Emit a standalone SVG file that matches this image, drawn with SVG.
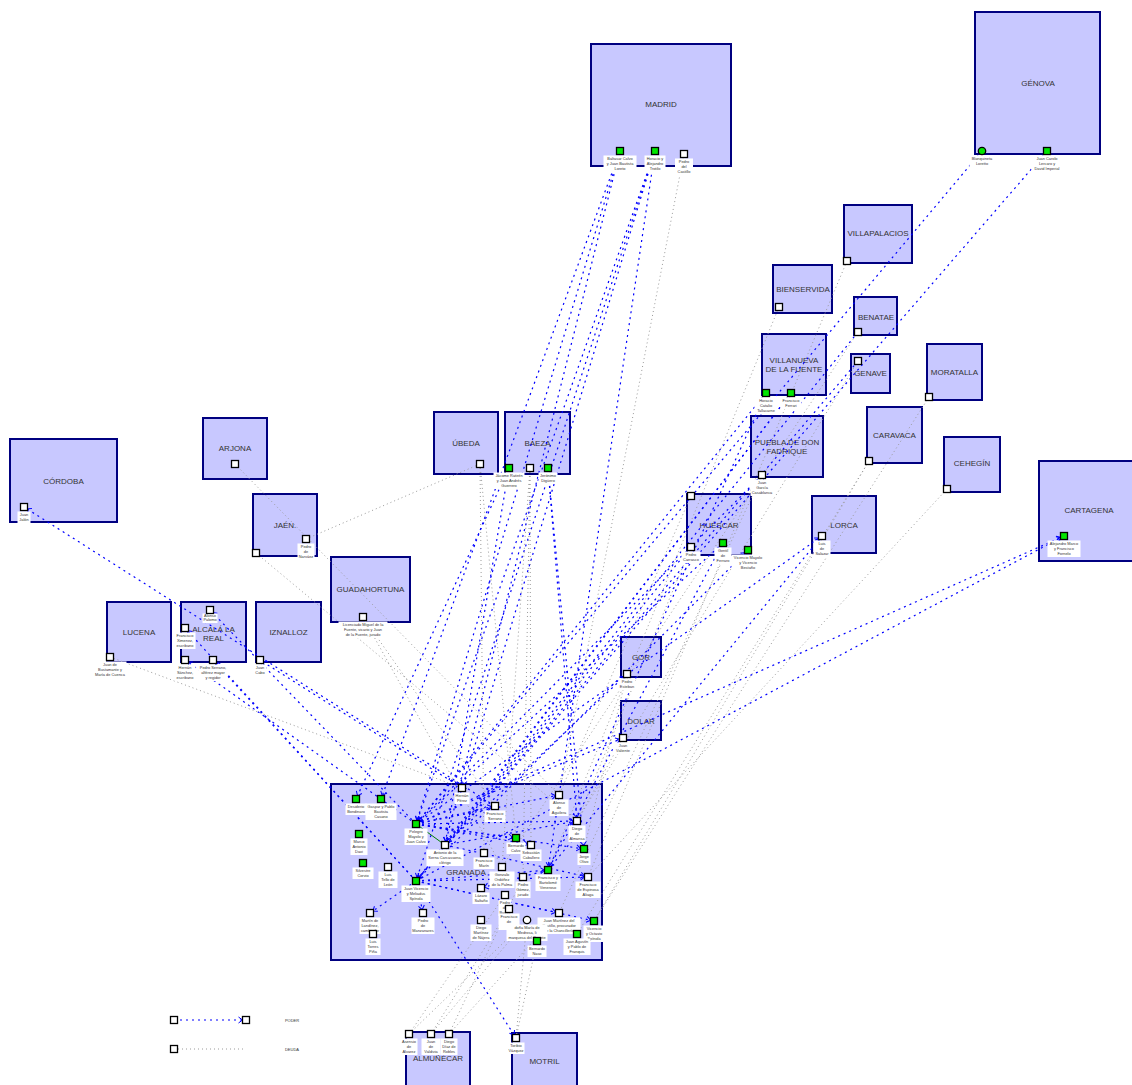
<svg xmlns="http://www.w3.org/2000/svg" width="1132" height="1085" viewBox="0 0 1132 1085">
<style>
.box{fill:#c8c8ff;stroke:#000080;stroke-width:2}
.bl{font-family:"Liberation Sans",Arial,sans-serif;font-size:8px;fill:#333;text-anchor:middle}
.pw{fill:#fff;stroke:#000;stroke-width:1.3}
.pg{fill:#00e600;stroke:#000;stroke-width:1.3}
.lb{fill:#fff}
.lt{font-family:"Liberation Sans",Arial,sans-serif;font-size:3.9px;fill:#333;text-anchor:middle}
.poder{stroke:#0000ff;stroke-width:1.2;stroke-dasharray:2 4;fill:none;marker-end:url(#ah)}
.deuda{stroke:#9a9a9a;stroke-width:1;stroke-dasharray:1 3;fill:none}
.lg{font-family:"Liberation Sans",Arial,sans-serif;font-size:4px;fill:#333;text-anchor:middle}
</style>
<defs>
<marker id="ah" markerWidth="12" markerHeight="8" refX="11.5" refY="4" orient="auto" markerUnits="userSpaceOnUse">
<path d="M4,1 L8,4 L4,7" fill="none" stroke="#0000ff" stroke-width="1"/>
</marker>
</defs>
<rect width="1132" height="1085" fill="#fff"/>

<!-- places -->
<g id="n-madrid"><rect class="box" x="591" y="44" width="140" height="122"/><text class="bl" x="661" y="107">MADRID</text></g>
<g id="n-genova"><rect class="box" x="975" y="12" width="125" height="142"/><text class="bl" x="1038" y="86">GÉNOVA</text></g>
<g id="n-villapalacios"><rect class="box" x="844" y="205" width="68" height="58"/><text class="bl" x="878" y="236">VILLAPALACIOS</text></g>
<g id="n-bienservida"><rect class="box" x="773" y="265" width="59" height="48"/><text class="bl" x="803" y="292">BIENSERVIDA</text></g>
<g id="n-benatae"><rect class="box" x="854" y="297" width="43" height="38"/><text class="bl" x="876" y="319.5">BENATAE</text></g>
<g id="n-genave"><rect class="box" x="851" y="354" width="39" height="39"/><text class="bl" x="870.5" y="376">GENAVE</text></g>
<g id="n-moratalla"><rect class="box" x="927" y="344" width="55" height="56"/><text class="bl" x="954.5" y="375">MORATALLA</text></g>
<g id="n-villanueva"><rect class="box" x="762" y="334" width="64" height="61"/><text class="bl" x="794" y="363">VILLANUEVA</text><text class="bl" x="794" y="372">DE LA FUENTE</text></g>
<g id="n-puebla"><rect class="box" x="751" y="416" width="72" height="61"/><text class="bl" x="787" y="445">PUEBLA DE DON</text><text class="bl" x="787" y="454">FADRIQUE</text></g>
<g id="n-caravaca"><rect class="box" x="867" y="407" width="55" height="56"/><text class="bl" x="894.5" y="438">CARAVACA</text></g>
<g id="n-cehegin"><rect class="box" x="944" y="437" width="56" height="55"/><text class="bl" x="972" y="466">CEHEGÍN</text></g>
<g id="n-cartagena"><rect class="box" x="1039" y="461" width="100" height="100"/><text class="bl" x="1089" y="513">CARTAGENA</text></g>
<g id="n-huescar"><rect class="box" x="687" y="494" width="64" height="61"/><text class="bl" x="719" y="528">HUÉSCAR</text></g>
<g id="n-lorca"><rect class="box" x="812" y="496" width="64" height="57"/><text class="bl" x="844" y="528">LORCA</text></g>
<g id="n-gor"><rect class="box" x="621" y="637" width="40" height="40"/><text class="bl" x="641" y="660">GOR</text></g>
<g id="n-dolar"><rect class="box" x="621" y="701" width="40" height="39"/><text class="bl" x="641" y="724">DOLAR</text></g>
<g id="n-cordoba"><rect class="box" x="10" y="439" width="107" height="83"/><text class="bl" x="63.5" y="484">CÓRDOBA</text></g>
<g id="n-arjona"><rect class="box" x="203" y="418" width="64" height="61"/><text class="bl" x="235" y="451">ARJONA</text></g>
<g id="n-jaen"><rect class="box" x="253" y="494" width="64" height="62"/><text class="bl" x="285" y="528">JAÉN.</text></g>
<g id="n-lucena"><rect class="box" x="107" y="602" width="64" height="60"/><text class="bl" x="139" y="635">LUCENA</text></g>
<g id="n-alcala"><rect class="box" x="181" y="602" width="65" height="60"/><text class="bl" x="213.5" y="631.5">ALCALÁ LA</text><text class="bl" x="213.5" y="640.5">REAL</text></g>
<g id="n-iznalloz"><rect class="box" x="256" y="602" width="65" height="60"/><text class="bl" x="288.5" y="635">IZNALLOZ</text></g>
<g id="n-ubeda"><rect class="box" x="434" y="412" width="64" height="62"/><text class="bl" x="466" y="446">ÚBEDA</text></g>
<g id="n-baeza"><rect class="box" x="505" y="412" width="65" height="62"/><text class="bl" x="537.5" y="446">BAEZA</text></g>
<g id="n-guadahortuna"><rect class="box" x="331" y="557" width="79" height="65"/><text class="bl" x="370.5" y="592">GUADAHORTUNA</text></g>
<g id="n-granada"><rect class="box" x="331" y="784" width="271" height="176"/><text class="bl" x="466" y="875">GRANADA</text></g>
<g id="n-almunecar"><rect class="box" x="406" y="1032" width="64" height="60"/><text class="bl" x="438" y="1061">ALMUÑÉCAR</text></g>
<g id="n-motril"><rect class="box" x="512" y="1033" width="65" height="60"/><text class="bl" x="544.5" y="1064">MOTRIL</text></g>

<!-- relations: poder (blue, arrow) and deuda (grey) -->
<g id="connectors">
<line class="deuda" x1="235" y1="464" x2="559" y2="795"/>
<line class="deuda" x1="256" y1="553" x2="577" y2="821"/>
<line class="deuda" x1="306" y1="539" x2="480" y2="464"/>
<line class="deuda" x1="110" y1="657" x2="462" y2="788"/>
<line class="deuda" x1="480" y1="464" x2="484" y2="853"/>
<line class="deuda" x1="480" y1="464" x2="516" y2="838"/>
<line class="deuda" x1="530" y1="468" x2="531" y2="845"/>
<line class="deuda" x1="530" y1="468" x2="502" y2="867"/>
<line class="deuda" x1="530" y1="468" x2="523" y2="877"/>
<line class="deuda" x1="363" y1="617" x2="495" y2="806"/>
<line class="deuda" x1="363" y1="617" x2="502" y2="867"/>
<line class="deuda" x1="847" y1="261" x2="588" y2="877"/>
<line class="deuda" x1="779" y1="307" x2="548" y2="870"/>
<line class="deuda" x1="929" y1="397" x2="594" y2="921"/>
<line class="deuda" x1="869" y1="461" x2="594" y2="921"/>
<line class="deuda" x1="869" y1="461" x2="577" y2="934"/>
<line class="deuda" x1="947" y1="489" x2="588" y2="877"/>
<line class="deuda" x1="691" y1="496" x2="559" y2="795"/>
<line class="deuda" x1="691" y1="547" x2="577" y2="821"/>
<line class="deuda" x1="762" y1="475" x2="559" y2="913"/>
<line class="deuda" x1="858" y1="332" x2="502" y2="867"/>
<line class="deuda" x1="858" y1="361" x2="577" y2="821"/>
<line class="deuda" x1="627" y1="674" x2="584" y2="849"/>
<line class="deuda" x1="623" y1="738" x2="577" y2="821"/>
<line class="deuda" x1="409" y1="1034" x2="527" y2="920"/>
<line class="deuda" x1="409" y1="1034" x2="505" y2="895"/>
<line class="deuda" x1="431" y1="1034" x2="509" y2="909"/>
<line class="deuda" x1="431" y1="1034" x2="527" y2="920"/>
<line class="deuda" x1="449" y1="1034" x2="523" y2="877"/>
<line class="deuda" x1="449" y1="1034" x2="559" y2="913"/>
<line class="deuda" x1="516" y1="1038" x2="527" y2="920"/>
<line class="deuda" x1="516" y1="1038" x2="537" y2="941"/>
<line class="deuda" x1="684" y1="154" x2="559" y2="795"/>

<line class="poder" x1="620" y1="151" x2="416" y2="824"/>
<line class="poder" x1="620" y1="151" x2="445" y2="845"/>
<line class="poder" x1="620" y1="151" x2="381" y2="799"/>
<line class="poder" x1="655" y1="151" x2="416" y2="824"/>
<line class="poder" x1="655" y1="151" x2="416" y2="881"/>
<line class="poder" x1="655" y1="151" x2="462" y2="788"/>
<line class="poder" x1="655" y1="151" x2="548" y2="870"/>
<line class="poder" x1="982" y1="151" x2="416" y2="824"/>
<line class="poder" x1="1047" y1="151" x2="416" y2="881"/>
<line class="poder" x1="766" y1="393" x2="416" y2="824"/>
<line class="poder" x1="791" y1="393" x2="416" y2="881"/>
<line class="poder" x1="791" y1="393" x2="445" y2="845"/>
<line class="poder" x1="723" y1="543" x2="416" y2="824"/>
<line class="poder" x1="416" y1="881" x2="748" y2="550"/>
<line class="poder" x1="509" y1="468" x2="356" y2="799"/>
<line class="poder" x1="509" y1="468" x2="445" y2="845"/>
<line class="poder" x1="548" y1="468" x2="577" y2="821"/>
<line class="poder" x1="548" y1="468" x2="584" y2="849"/>
<line class="poder" x1="495" y1="806" x2="24" y2="507"/>
<line class="poder" x1="416" y1="881" x2="516" y2="1038"/>
<line class="poder" x1="416" y1="824" x2="185" y2="660"/>
<line class="poder" x1="416" y1="881" x2="185" y2="628"/>
<line class="poder" x1="416" y1="881" x2="213" y2="660"/>
<line class="poder" x1="416" y1="824" x2="210" y2="610"/>
<line class="poder" x1="462" y1="788" x2="260" y2="660"/>
<line class="poder" x1="416" y1="824" x2="1064" y2="536"/>
<line class="poder" x1="416" y1="881" x2="1064" y2="536"/>
<line class="poder" x1="416" y1="824" x2="822" y2="536"/>
<line class="poder" x1="548" y1="870" x2="822" y2="536"/>
<line class="poder" x1="416" y1="824" x2="623" y2="738"/>
<line class="poder" x1="445" y1="845" x2="627" y2="674"/>
<line class="poder" x1="858" y1="332" x2="445" y2="845"/>
<line class="poder" x1="858" y1="361" x2="416" y2="881"/>
<line class="poder" x1="762" y1="475" x2="416" y2="824"/>
<line class="poder" x1="691" y1="547" x2="416" y2="881"/>
<line class="poder" x1="766" y1="393" x2="548" y2="870"/>
<line class="poder" x1="723" y1="543" x2="548" y2="870"/>

<line class="poder" x1="416" y1="824" x2="559" y2="795"/>
<line class="poder" x1="416" y1="824" x2="577" y2="821"/>
<line class="poder" x1="416" y1="824" x2="584" y2="849"/>
<line class="poder" x1="416" y1="881" x2="588" y2="877"/>
<line class="poder" x1="416" y1="881" x2="559" y2="913"/>
<line class="poder" x1="416" y1="881" x2="594" y2="921"/>
<line class="poder" x1="416" y1="881" x2="423" y2="913"/>
<line class="poder" x1="416" y1="881" x2="370" y2="913"/>
<line class="poder" x1="548" y1="870" x2="481" y2="888"/>
<line class="poder" x1="416" y1="824" x2="516" y2="838"/>
<line class="poder" x1="416" y1="824" x2="495" y2="806"/>
<line class="poder" x1="445" y1="845" x2="577" y2="821"/>
<line class="poder" x1="416" y1="881" x2="548" y2="870"/>
<line class="poder" x1="416" y1="824" x2="531" y2="845"/>
<line class="poder" x1="445" y1="845" x2="588" y2="877"/>
<line x1="416" y1="824" x2="445" y2="845" stroke="#008000" stroke-width="1"/>
</g>

<!-- people -->
<g id="p-m1"><rect class="lb" x="603.5" y="155.5" width="33" height="16.5"/><text class="lt" x="620" y="159.5">Baltasar Calvo<tspan x="620" dy="5">y Juan Bautista</tspan><tspan x="620" dy="5">Loreto</tspan></text><rect class="pg" x="616.5" y="147.5" width="7" height="7"/></g>
<g id="p-m2"><rect class="lb" x="644.5" y="155.5" width="21" height="16.5"/><text class="lt" x="655" y="159.5">Horacio y<tspan x="655" dy="5">Alejandro</tspan><tspan x="655" dy="5">Trotilo</tspan></text><rect class="pg" x="651.5" y="147.5" width="7" height="7"/></g>
<g id="p-m3"><rect class="lb" x="675" y="158.5" width="18" height="16.5"/><text class="lt" x="684" y="162.5">Pedro<tspan x="684" dy="5">del</tspan><tspan x="684" dy="5">Castillo</tspan></text><rect class="pw" x="680.5" y="150.5" width="7" height="7"/></g>
<g id="p-g-1"><rect class="lb" x="969.5" y="155.5" width="25" height="11.5"/><text class="lt" x="982" y="159.5">Blanquineta<tspan x="982" dy="5">Loretto</tspan></text><circle class="pg" cx="982" cy="151" r="3.7"/></g>
<g id="p-g-2"><rect class="lb" x="1031.5" y="155.5" width="31" height="16.5"/><text class="lt" x="1047" y="159.5">Juan Carolo<tspan x="1047" dy="5">Lercaro y</tspan><tspan x="1047" dy="5">David Imperial</tspan></text><rect class="pg" x="1043.5" y="147.5" width="7" height="7"/></g>
<g id="p-vp"><rect class="pw" x="843.5" y="257.5" width="7" height="7"/></g>
<g id="p-bs"><rect class="pw" x="775.5" y="303.5" width="7" height="7"/></g>
<g id="p-bn"><rect class="pw" x="854.5" y="328.5" width="7" height="7"/></g>
<g id="p-gn"><rect class="pw" x="854.5" y="357.5" width="7" height="7"/></g>
<g id="p-mo"><rect class="pw" x="925.5" y="393.5" width="7" height="7"/></g>
<g id="p-vf1"><rect class="lb" x="754.5" y="397.5" width="23" height="16.5"/><text class="lt" x="766" y="401.5">Horacio<tspan x="766" dy="5">Catalio</tspan><tspan x="766" dy="5">Tallacarne</tspan></text><rect class="pg" x="762.5" y="389.5" width="7" height="7"/></g>
<g id="p-vf2"><rect class="lb" x="780.5" y="397.5" width="21" height="11.5"/><text class="lt" x="791" y="401.5">Francisco<tspan x="791" dy="5">Ferrari</tspan></text><rect class="pg" x="787.5" y="389.5" width="7" height="7"/></g>
<g id="p-pf"><rect class="lb" x="750.5" y="479.5" width="23" height="16.5"/><text class="lt" x="762" y="483.5">Juan<tspan x="762" dy="5">García</tspan><tspan x="762" dy="5">Casablanca</tspan></text><rect class="pw" x="758.5" y="471.5" width="7" height="7"/></g>
<g id="p-ca"><rect class="pw" x="865.5" y="457.5" width="7" height="7"/></g>
<g id="p-ce"><rect class="pw" x="943.5" y="485.5" width="7" height="7"/></g>
<g id="p-ct"><rect class="lb" x="1047.5" y="540.5" width="33" height="16.5"/><text class="lt" x="1064" y="544.5">Alejandro Marco<tspan x="1064" dy="5">y Francisco</tspan><tspan x="1064" dy="5">Fornelo</tspan></text><rect class="pg" x="1060.5" y="532.5" width="7" height="7"/></g>
<g id="p-h0"><rect class="pw" x="687.5" y="492.5" width="7" height="7"/></g>
<g id="p-h1"><rect class="lb" x="681.5" y="551.5" width="19" height="11.5"/><text class="lt" x="691" y="555.5">Pedro<tspan x="691" dy="5">Carrasco</tspan></text><rect class="pw" x="687.5" y="543.5" width="7" height="7"/></g>
<g id="p-h2"><rect class="lb" x="714.5" y="547.5" width="17" height="16.5"/><text class="lt" x="723" y="551.5">Gentil<tspan x="723" dy="5">de</tspan><tspan x="723" dy="5">Ferraro</tspan></text><rect class="pg" x="719.5" y="539.5" width="7" height="7"/></g>
<g id="p-h3"><rect class="lb" x="731.5" y="554.5" width="33" height="16.5"/><text class="lt" x="748" y="558.5">Vicencio Mayolo<tspan x="748" dy="5">y Vicencio</tspan><tspan x="748" dy="5">Bestaño</tspan></text><rect class="pg" x="744.5" y="546.5" width="7" height="7"/></g>
<g id="p-lo"><rect class="lb" x="813.5" y="540.5" width="17" height="16.5"/><text class="lt" x="822" y="544.5">Luis<tspan x="822" dy="5">de</tspan><tspan x="822" dy="5">Salazar</tspan></text><rect class="pw" x="818.5" y="532.5" width="7" height="7"/></g>
<g id="p-go"><rect class="lb" x="618.5" y="678.5" width="17" height="11.5"/><text class="lt" x="627" y="682.5">Pedro<tspan x="627" dy="5">Esteban</tspan></text><rect class="pw" x="623.5" y="670.5" width="7" height="7"/></g>
<g id="p-do"><rect class="lb" x="613.5" y="742.5" width="19" height="11.5"/><text class="lt" x="623" y="746.5">Juan<tspan x="623" dy="5">Valiente</tspan></text><rect class="pw" x="619.5" y="734.5" width="7" height="7"/></g>
<g id="p-co"><rect class="lb" x="17.5" y="511.5" width="13" height="11.5"/><text class="lt" x="24" y="515.5">Juan<tspan x="24" dy="5">Jalón</tspan></text><rect class="pw" x="20.5" y="503.5" width="7" height="7"/></g>
<g id="p-ar"><rect class="pw" x="231.5" y="460.5" width="7" height="7"/></g>
<g id="p-j1"><rect class="lb" x="297.5" y="543.5" width="17" height="16.5"/><text class="lt" x="306" y="547.5">Pedro<tspan x="306" dy="5">de</tspan><tspan x="306" dy="5">Narváez</tspan></text><rect class="pw" x="302.5" y="535.5" width="7" height="7"/></g>
<g id="p-j2"><rect class="pw" x="252.5" y="549.5" width="7" height="7"/></g>
<g id="p-lu"><rect class="lb" x="93.5" y="661.5" width="33" height="16.5"/><text class="lt" x="110" y="665.5">Juan de<tspan x="110" dy="5">Bustamante y</tspan><tspan x="110" dy="5">María de Cuenca</tspan></text><rect class="pw" x="106.5" y="653.5" width="7" height="7"/></g>
<g id="p-a1"><rect class="lb" x="202.5" y="613.5" width="15" height="9.5"/><text class="lt" x="210" y="616.8">Alonso<tspan x="210" dy="4.3">Palomo</tspan></text><rect class="pw" x="206.5" y="606.5" width="7" height="7"/></g>
<g id="p-a2"><rect class="lb" x="174.5" y="632.5" width="21" height="16.5"/><text class="lt" x="185" y="636.5">Francisco<tspan x="185" dy="5">Ximenez,</tspan><tspan x="185" dy="5">escribano</tspan></text><rect class="pw" x="181.5" y="624.5" width="7" height="7"/></g>
<g id="p-a3"><rect class="lb" x="174.5" y="664.5" width="21" height="16.5"/><text class="lt" x="185" y="668.5">Hernán<tspan x="185" dy="5">Sánchez,</tspan><tspan x="185" dy="5">escribano</tspan></text><rect class="pw" x="181.5" y="656.5" width="7" height="7"/></g>
<g id="p-a4"><rect class="lb" x="198.5" y="664.5" width="29" height="16.5"/><text class="lt" x="213" y="668.5">Pedro Serrano,<tspan x="213" dy="5">alférez mayor</tspan><tspan x="213" dy="5">y regidor</tspan></text><rect class="pw" x="209.5" y="656.5" width="7" height="7"/></g>
<g id="p-iz"><rect class="lb" x="254" y="664.5" width="12" height="11.5"/><text class="lt" x="260" y="668.5">Juan<tspan x="260" dy="5">Cabo</tspan></text><rect class="pw" x="256.5" y="656.5" width="7" height="7"/></g>
<g id="p-ub"><rect class="pw" x="476.5" y="460.5" width="7" height="7"/></g>
<g id="p-b1"><rect class="lb" x="493.5" y="472.5" width="31" height="16.5"/><text class="lt" x="509" y="476.5">Jácome Ratirén<tspan x="509" dy="5">y Juan Andrés</tspan><tspan x="509" dy="5">Guerrero</tspan></text><rect class="pg" x="505.5" y="464.5" width="7" height="7"/></g>
<g id="p-b2"><rect class="pw" x="526.5" y="464.5" width="7" height="7"/></g>
<g id="p-b3"><rect class="lb" x="538.5" y="472.5" width="19" height="11.5"/><text class="lt" x="548" y="476.5">Jerónimo<tspan x="548" dy="5">Digüero</tspan></text><rect class="pg" x="544.5" y="464.5" width="7" height="7"/></g>
<g id="p-gu"><rect class="lb" x="338.5" y="621.5" width="49" height="16.5"/><text class="lt" x="363" y="625.5">Licenciado Miguel de la<tspan x="363" dy="5">Fuente, vicario y Juan</tspan><tspan x="363" dy="5">de la Fuente, jurado</tspan></text><rect class="pw" x="359.5" y="613.5" width="7" height="7"/></g>
<g id="p-al1"><rect class="lb" x="400.5" y="1038.5" width="17" height="16.5"/><text class="lt" x="409" y="1042.5">Asensio<tspan x="409" dy="5">de</tspan><tspan x="409" dy="5">Alvarez</tspan></text><rect class="pw" x="405.5" y="1030.5" width="7" height="7"/></g>
<g id="p-al2"><rect class="lb" x="421.5" y="1038.5" width="19" height="16.5"/><text class="lt" x="431" y="1042.5">Juan<tspan x="431" dy="5">de</tspan><tspan x="431" dy="5">Valdivia</tspan></text><rect class="pw" x="427.5" y="1030.5" width="7" height="7"/></g>
<g id="p-al3"><rect class="lb" x="440.5" y="1038.5" width="17" height="16.5"/><text class="lt" x="449" y="1042.5">Diego<tspan x="449" dy="5">Díaz de</tspan><tspan x="449" dy="5">Robles</tspan></text><rect class="pw" x="445.5" y="1030.5" width="7" height="7"/></g>
<g id="p-mt"><rect class="lb" x="507.5" y="1042.5" width="17" height="11.5"/><text class="lt" x="516" y="1046.5">Toribio<tspan x="516" dy="5">Vázquez</tspan></text><rect class="pw" x="512.5" y="1034.5" width="7" height="7"/></g>

<g id="p-g1"><rect class="lb" x="345.5" y="803.5" width="21" height="11.5"/><text class="lt" x="356" y="807.5">Desiderio<tspan x="356" dy="5">Bondinaro</tspan></text><rect class="pg" x="352.5" y="795.5" width="7" height="7"/></g>
<g id="p-g2"><rect class="lb" x="365.5" y="803.5" width="31" height="16.5"/><text class="lt" x="381" y="807.5">Gaspar y Pablo<tspan x="381" dy="5">Bautista</tspan><tspan x="381" dy="5">Casano</tspan></text><rect class="pg" x="377.5" y="795.5" width="7" height="7"/></g>
<g id="p-g8"><rect class="lb" x="454.5" y="792.5" width="15" height="11.5"/><text class="lt" x="462" y="796.5">Hernán<tspan x="462" dy="5">Pérez</tspan></text><rect class="pw" x="458.5" y="784.5" width="7" height="7"/></g>
<g id="p-g9"><rect class="lb" x="484.5" y="810.5" width="21" height="11.5"/><text class="lt" x="495" y="814.5">Francisco<tspan x="495" dy="5">Serrano</tspan></text><rect class="pw" x="491.5" y="802.5" width="7" height="7"/></g>
<g id="p-g12"><rect class="lb" x="549.5" y="799.5" width="19" height="16.5"/><text class="lt" x="559" y="803.5">Alonso<tspan x="559" dy="5">de</tspan><tspan x="559" dy="5">Aguilera</tspan></text><rect class="pw" x="555.5" y="791.5" width="7" height="7"/></g>
<g id="p-g13"><rect class="lb" x="568.5" y="825.5" width="17" height="16.5"/><text class="lt" x="577" y="829.5">Diego<tspan x="577" dy="5">de</tspan><tspan x="577" dy="5">Almansa</tspan></text><rect class="pw" x="573.5" y="817.5" width="7" height="7"/></g>
<g id="p-g5"><rect class="lb" x="350.5" y="838.5" width="17" height="16.5"/><text class="lt" x="359" y="842.5">Marco<tspan x="359" dy="5">Antonio</tspan><tspan x="359" dy="5">Davi</tspan></text><rect class="pg" x="355.5" y="830.5" width="7" height="7"/></g>
<g id="p-g3"><rect class="lb" x="404.5" y="828.5" width="23" height="16.5"/><text class="lt" x="416" y="832.5">Pelegro<tspan x="416" dy="5">Mayolo y</tspan><tspan x="416" dy="5">Juan Calvo</tspan></text><rect class="pg" x="412.5" y="820.5" width="7" height="7"/></g>
<g id="p-g10"><rect class="lb" x="506.5" y="842.5" width="19" height="11.5"/><text class="lt" x="516" y="846.5">Bernardo<tspan x="516" dy="5">Calvo</tspan></text><rect class="pg" x="512.5" y="834.5" width="7" height="7"/></g>
<g id="p-g11"><rect class="lb" x="520.5" y="849.5" width="21" height="11.5"/><text class="lt" x="531" y="853.5">Sebastián<tspan x="531" dy="5">Caballero</tspan></text><rect class="pw" x="527.5" y="841.5" width="7" height="7"/></g>
<g id="p-g4"><rect class="lb" x="426.5" y="849.5" width="37" height="16.5"/><text class="lt" x="445" y="853.5">Antonio de la<tspan x="445" dy="5">Serna Carcassona,</tspan><tspan x="445" dy="5">clérigo</tspan></text><rect class="pw" x="441.5" y="841.5" width="7" height="7"/></g>
<g id="p-g14"><rect class="lb" x="577.5" y="853.5" width="13" height="11.5"/><text class="lt" x="584" y="857.5">Jorge<tspan x="584" dy="5">Olivo</tspan></text><rect class="pg" x="580.5" y="845.5" width="7" height="7"/></g>
<g id="p-g15"><rect class="lb" x="473.5" y="857.5" width="21" height="11.5"/><text class="lt" x="484" y="861.5">Francisco<tspan x="484" dy="5">Marín</tspan></text><rect class="pw" x="480.5" y="849.5" width="7" height="7"/></g>
<g id="p-g6"><rect class="lb" x="352.5" y="867.5" width="21" height="11.5"/><text class="lt" x="363" y="871.5">Silvestre<tspan x="363" dy="5">Corvio</tspan></text><rect class="pg" x="359.5" y="859.5" width="7" height="7"/></g>
<g id="p-g7"><rect class="lb" x="378.5" y="871.5" width="19" height="16.5"/><text class="lt" x="388" y="875.5">Luis<tspan x="388" dy="5">Tello de</tspan><tspan x="388" dy="5">León</tspan></text><rect class="pw" x="384.5" y="863.5" width="7" height="7"/></g>
<g id="p-g16"><rect class="lb" x="489.5" y="871.5" width="25" height="16.5"/><text class="lt" x="502" y="875.5">Gonzalo<tspan x="502" dy="5">Ordóñez</tspan><tspan x="502" dy="5">de la Palma</tspan></text><rect class="pw" x="498.5" y="863.5" width="7" height="7"/></g>
<g id="p-g17"><rect class="lb" x="535.5" y="874.5" width="25" height="16.5"/><text class="lt" x="548" y="878.5">Francisco y<tspan x="548" dy="5">Bartolomé</tspan><tspan x="548" dy="5">Veneroso</tspan></text><rect class="pg" x="544.5" y="866.5" width="7" height="7"/></g>
<g id="p-g18"><rect class="lb" x="515.5" y="881.5" width="15" height="16.5"/><text class="lt" x="523" y="885.5">Pedro<tspan x="523" dy="5">Gómez,</tspan><tspan x="523" dy="5">jurado</tspan></text><rect class="pw" x="519.5" y="873.5" width="7" height="7"/></g>
<g id="p-g19"><rect class="lb" x="575.5" y="881.5" width="25" height="16.5"/><text class="lt" x="588" y="885.5">Francisco<tspan x="588" dy="5">de Espinosa</tspan><tspan x="588" dy="5">Aliaga</tspan></text><rect class="pw" x="584.5" y="873.5" width="7" height="7"/></g>
<g id="p-g29"><rect class="lb" x="401.5" y="885.5" width="29" height="16.5"/><text class="lt" x="416" y="889.5">Juan Vicencio<tspan x="416" dy="5">y Meliadus</tspan><tspan x="416" dy="5">Spínola</tspan></text><rect class="pg" x="412.5" y="877.5" width="7" height="7"/></g>
<g id="p-g20"><rect class="lb" x="472.5" y="892.5" width="17" height="11.5"/><text class="lt" x="481" y="896.5">Lázaro<tspan x="481" dy="5">Saltaño</tspan></text><rect class="pw" x="477.5" y="884.5" width="7" height="7"/></g>
<g id="p-g21"><rect class="lb" x="498.5" y="899.5" width="13" height="16.5"/><text class="lt" x="505" y="903.5">Pedro<tspan x="505" dy="5">de</tspan><tspan x="505" dy="5">Baeza</tspan></text><rect class="pw" x="501.5" y="891.5" width="7" height="7"/></g>
<g id="p-g22"><rect class="lb" x="498.5" y="913.5" width="21" height="16.5"/><text class="lt" x="509" y="917.5">Francisco<tspan x="509" dy="5">de</tspan><tspan x="509" dy="5">N</tspan></text><rect class="pw" x="505.5" y="905.5" width="7" height="7"/></g>
<g id="p-g30"><rect class="lb" x="359.5" y="917.5" width="21" height="16.5"/><text class="lt" x="370" y="921.5">Martín de<tspan x="370" dy="5">Landínez,</tspan><tspan x="370" dy="5">cambiador</tspan></text><rect class="pw" x="366.5" y="909.5" width="7" height="7"/></g>
<g id="p-g31"><rect class="lb" x="365.5" y="938.5" width="15" height="16.5"/><text class="lt" x="373" y="942.5">Luis<tspan x="373" dy="5">Torres</tspan><tspan x="373" dy="5">Piña</tspan></text><rect class="pw" x="369.5" y="930.5" width="7" height="7"/></g>
<g id="p-g32"><rect class="lb" x="411.5" y="917.5" width="23" height="16.5"/><text class="lt" x="423" y="921.5">Pedro<tspan x="423" dy="5">de</tspan><tspan x="423" dy="5">Manzanares</tspan></text><rect class="pw" x="419.5" y="909.5" width="7" height="7"/></g>
<g id="p-g23"><rect class="lb" x="470.5" y="924.5" width="21" height="16.5"/><text class="lt" x="481" y="928.5">Diego<tspan x="481" dy="5">Martínez</tspan><tspan x="481" dy="5">de Nájera</tspan></text><rect class="pw" x="477.5" y="916.5" width="7" height="7"/></g>
<g id="p-g26"><rect class="lb" x="537.5" y="917.5" width="43" height="16.5"/><text class="lt" x="559" y="921.5">Juan Martínez del<tspan x="559" dy="5">Castillo, procurador</tspan><tspan x="559" dy="5">de la Chancillería</tspan></text><rect class="pw" x="555.5" y="909.5" width="7" height="7"/></g>
<g id="p-g24"><rect class="lb" x="506.5" y="924.5" width="41" height="16.5"/><text class="lt" x="527" y="928.5">doña María de<tspan x="527" dy="5">Medrosa, li</tspan><tspan x="527" dy="5">marquesa del Cenete</tspan></text><circle class="pw" cx="527" cy="920" r="3.7"/></g>
<g id="p-g28"><rect class="lb" x="583.5" y="925.5" width="21" height="16.5"/><text class="lt" x="594" y="929.5">Vicencio<tspan x="594" dy="5">y Octavio</tspan><tspan x="594" dy="5">Spínola</tspan></text><rect class="pg" x="590.5" y="917.5" width="7" height="7"/></g>
<g id="p-g27"><rect class="lb" x="563.5" y="938.5" width="27" height="16.5"/><text class="lt" x="577" y="942.5">Juan Agustín<tspan x="577" dy="5">y Pablo de</tspan><tspan x="577" dy="5">Franquis</tspan></text><rect class="pg" x="573.5" y="930.5" width="7" height="7"/></g>
<g id="p-g25"><rect class="lb" x="527.5" y="945.5" width="19" height="11.5"/><text class="lt" x="537" y="949.5">Bernardo<tspan x="537" dy="5">Naso</tspan></text><rect class="pg" x="533.5" y="937.5" width="7" height="7"/></g>

<!-- key -->
<g id="legend">
<line class="poder" x1="174" y1="1020" x2="246" y2="1020"/>
<rect class="pw" x="170.5" y="1016.5" width="7" height="7"/>
<rect class="pw" x="242.5" y="1016.5" width="7" height="7"/>
<text class="lg" x="292" y="1021.5">PODER</text>
<line class="deuda" x1="178" y1="1049" x2="244" y2="1049"/>
<rect class="pw" x="170.5" y="1045.5" width="7" height="7"/>
<text class="lg" x="292" y="1050.5">DEUDA</text>
</g>
</svg>
